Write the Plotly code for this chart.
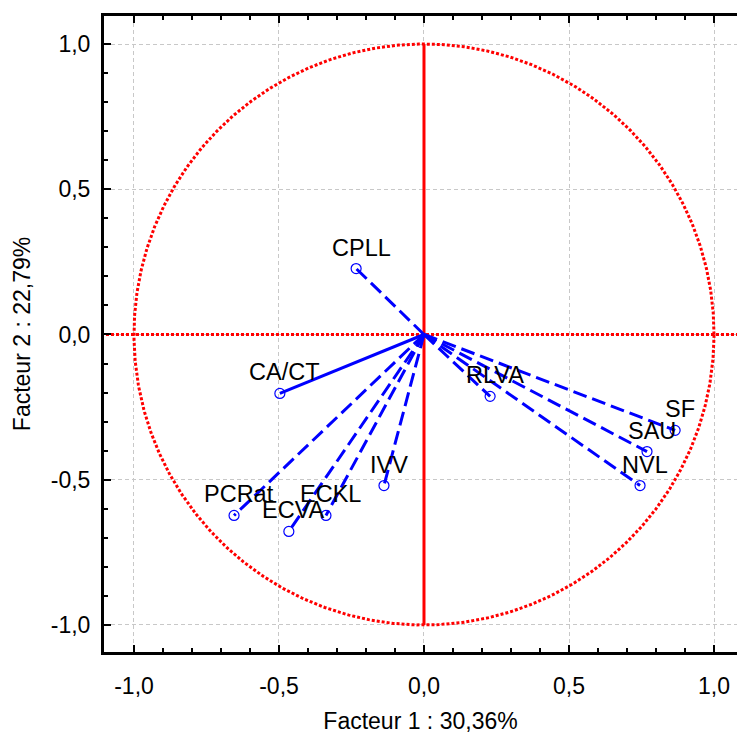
import numpy as np
import plotly.graph_objects as go

# Variables and their coordinates on factors 1 and 2
variables = ["CPLL", "CA/CT", "PCRat", "ECVA", "ECKL", "IVV", "RLVA", "SF", "SAU", "NVL"]
f1 = [-0.234, -0.497, -0.655, -0.466, -0.338, -0.138, 0.228, 0.866, 0.769, 0.745]
f2 = [0.227, -0.203, -0.623, -0.678, -0.623, -0.520, -0.213, -0.330, -0.403, -0.520]
solid_vars = ["CA/CT"]

tick_vals = [-1.0, -0.5, 0.0, 0.5, 1.0]
tick_text = ["-1,0", "-0,5", "0,0", "0,5", "1,0"]

x_title = "Facteur 1 : 30,36%"
y_title = "Facteur 2 : 22,79%"

BLUE = "#0000ff"
RED = "#ff0000"
FONT = "Liberation Sans, Arial"

fig = go.Figure()

# unit correlation circle
t = np.linspace(0, 2 * np.pi, 721)
fig.add_trace(go.Scatter(x=np.cos(t), y=np.sin(t), mode="lines",
                         line=dict(color=RED, width=3, dash="3px,2px"),
                         hoverinfo="skip", showlegend=False))
# horizontal red dotted axis
fig.add_trace(go.Scatter(x=[-1.2, 1.2], y=[0, 0], mode="lines",
                         line=dict(color=RED, width=3, dash="3px,2px"),
                         hoverinfo="skip", showlegend=False))
# vertical red solid axis
fig.add_trace(go.Scatter(x=[0, 0], y=[-1, 1], mode="lines",
                         line=dict(color=RED, width=3),
                         hoverinfo="skip", showlegend=False))

# vectors
for name, x, y in zip(variables, f1, f2):
    dash = "solid" if name in solid_vars else "14px,6px"
    fig.add_trace(go.Scatter(x=[0, x], y=[0, y], mode="lines",
                             line=dict(color=BLUE, width=3, dash=dash),
                             hoverinfo="skip", showlegend=False))

# points
fig.add_trace(go.Scatter(x=f1, y=f2, mode="markers",
                         marker=dict(symbol="circle-open", size=10, color=BLUE,
                                     line=dict(width=1.2, color=BLUE)),
                         text=variables, showlegend=False))

for name, x, y in zip(variables, f1, f2):
    fig.add_annotation(x=x, y=y, text=name, showarrow=False,
                       xshift=5, yshift=21,
                       font=dict(family=FONT, size=23.5, color="black"))

axis_common = dict(
    showgrid=True, gridcolor="#c8c8c8", gridwidth=1, griddash="4px,3px",
    zeroline=False, showline=True, linecolor="black", linewidth=3,
    ticks="inside", ticklen=7, tickwidth=2, tickcolor="black",
    tickvals=tick_vals, ticktext=tick_text,
    tickfont=dict(family=FONT, size=23, color="black"),
    minor=dict(dtick=0.1, tick0=0, ticks="inside", ticklen=4, tickwidth=2,
               tickcolor="black", showgrid=False),
)

fig.update_xaxes(**axis_common, range=[-1.1034, 1.0793], mirror="ticks",
                 ticklabelstandoff=11,
                 title=dict(text=x_title, standoff=16,
                            font=dict(family=FONT, size=23, color="black")))
fig.update_yaxes(**axis_common, range=[-1.093, 1.0964], mirror=False,
                 ticklabelstandoff=6,
                 title=dict(text=y_title, standoff=14,
                            font=dict(family=FONT, size=23, color="black")))

fig.update_layout(width=737, height=738, margin=dict(l=104, r=0, t=16, b=86),
                  plot_bgcolor="white", paper_bgcolor="white")

fig.write_html("out.html")
